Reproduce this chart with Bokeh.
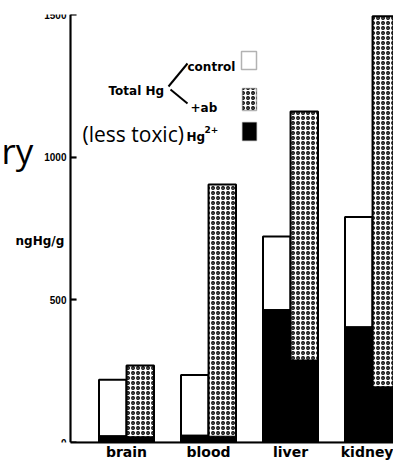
from bokeh.plotting import figure
from bokeh.models import (Range1d, FixedTicker, ColumnDataSource, Label,
                          BoxAnnotation, Arrow)
from bokeh.embed import file_html
from bokeh.resources import INLINE

# ---------------- data ----------------
organs = ["brain", "blood", "liver", "kidney"]
total_hg_control = [220, 237, 722, 790]
total_hg_ab = [270, 904, 1160, 1494]
hg2_control = [24, 26, 466, 406]
hg2_ab = [20, 22, 289, 195]
y_ticks = [0, 500, 1000, 1500]
y_tick_labels = ["0", "500", "1000", "1500"]

# ---------------- layout ----------------
W, H = 393, 462
AXIS_PX = 70          # y axis position (px)
CAT0_PX = 126         # centre of first category pair (px)
CAT_STEP = 82         # px between categories
FRAME_BOTTOM = 442    # baseline (px from top)
TICK_LEN = 6          # inward tick length (px)

def px_to_x(px):
    return (px - CAT0_PX) / CAT_STEP

def sx(x):
    return x

def sy(y):
    return FRAME_BOTTOM - y

idx = list(range(len(organs)))
OFF = 0.168
BW = 0.335
src = ColumnDataSource(dict(
    xc=[i - OFF for i in idx],
    xa=[i + OFF for i in idx],
    tc=total_hg_control,
    ta=total_hg_ab,
    hc=hg2_control,
    ha=hg2_ab,
))

p = figure(width=W, height=H, output_backend="svg", toolbar_location=None,
           x_range=Range1d(px_to_x(0), px_to_x(W)), y_range=Range1d(0, 1500),
           min_border_left=0, min_border_right=0, min_border_top=14,
           min_border_bottom=0)
p.outline_line_color = None
p.xgrid.grid_line_color = None
p.ygrid.grid_line_color = None

HATCH = dict(hatch_pattern="ring", hatch_color="black", hatch_scale=5, hatch_weight=1.3)

# total Hg bars
p.vbar(x="xc", top="tc", bottom=0, width=BW, source=src,
       fill_color="white", line_color="black", line_width=2)
p.vbar(x="xa", top="ta", bottom=0, width=BW, source=src,
       fill_color="white", line_color="black", line_width=2, **HATCH)
# Hg2+ portions
p.vbar(x="xc", top="hc", bottom=0, width=BW, source=src,
       fill_color="black", line_color="black", line_width=1)
p.vbar(x="xa", top="ha", bottom=0, width=BW, source=src,
       fill_color="black", line_color="black", line_width=1)

# y axis, drawn at the position of the original axis
yax = p.yaxis[0]
yax.fixed_location = px_to_x(AXIS_PX)
yax.ticker = FixedTicker(ticks=y_ticks)
yax.major_label_overrides = {t: l for t, l in zip(y_ticks, y_tick_labels)}
yax.axis_line_color = "black"
yax.axis_line_width = 2
yax.major_tick_line_color = "black"
yax.major_tick_line_width = 2
yax.major_tick_in = TICK_LEN
yax.major_tick_out = 0
yax.minor_tick_line_color = None
yax.major_label_standoff = 4
yax.major_label_text_font = "Liberation Sans"
yax.major_label_text_font_style = "bold"
yax.major_label_text_font_size = "10px"
yax.major_label_text_color = "black"

xax = p.xaxis[0]
xax.bounds = (px_to_x(AXIS_PX), px_to_x(W))
xax.ticker = FixedTicker(ticks=idx)
xax.major_label_overrides = {i: o for i, o in zip(idx, organs)}
xax.axis_line_width = 2
xax.axis_line_color = "black"
xax.major_tick_line_color = None
xax.major_tick_in = 0
xax.major_tick_out = 0
xax.minor_tick_line_color = None
xax.major_label_standoff = 1
xax.major_label_text_font = "DejaVu Sans"
xax.major_label_text_font_style = "bold"
xax.major_label_text_font_size = "14px"
xax.major_label_text_color = "black"

# ---------------- annotations ----------------
def lab(text, x, y, size, font="DejaVu Sans", style="bold"):
    p.add_layout(Label(x=sx(x), y=sy(y), x_units="screen", y_units="screen",
                       text=text, text_font=font, text_font_style=style,
                       text_font_size=size, text_color="black",
                       text_baseline="alphabetic", text_align="left"))

lab("ry", 1, 150, "35px", font="Open Sans", style="normal")
lab("(less toxic)", 82, 133, "21px", font="Open Sans", style="normal")
lab("Total Hg", 108, 90, "12px")
lab("control", 187, 66, "12px")
lab("+ab", 190, 107, "12px")
lab("Hg", 186, 136, "12px")
lab("2+", 204, 129, "9px")
lab("ngHg/g", 15, 240, "12px")

for (x0, y0, x1, y1) in [(168, 86, 187, 63), (170, 89, 187, 103)]:
    p.add_layout(Arrow(x_start=sx(x0), y_start=sy(y0), x_end=sx(x1), y_end=sy(y1),
                       start_units="screen", end_units="screen", end=None,
                       line_width=2, line_color="black"))

box_kw = dict(left_units="screen", right_units="screen",
              top_units="screen", bottom_units="screen", line_color="black",
              line_width=1.5, fill_alpha=1)
p.add_layout(BoxAnnotation(left=sx(241), right=sx(256), top=sy(51), bottom=sy(69),
                           fill_color="white", **box_kw))
p.add_layout(BoxAnnotation(left=sx(242), right=sx(256), top=sy(88), bottom=sy(110),
                           fill_color="white", **HATCH, **box_kw))
p.add_layout(BoxAnnotation(left=sx(242), right=sx(256), top=sy(122), bottom=sy(140),
                           fill_color="black", **box_kw))

# axis rule, inward ticks and baseline re-stroked on top (positioned by the y scale)
rule_kw = dict(left_units="screen", right_units="screen", top_units="data",
               bottom_units="data", fill_alpha=0, line_color="black", line_width=2)
p.add_layout(BoxAnnotation(left=sx(AXIS_PX), right=sx(AXIS_PX),
                           top=y_ticks[-1], bottom=y_ticks[0], **rule_kw))
for t in y_ticks[1:]:
    p.add_layout(BoxAnnotation(left=sx(AXIS_PX), right=sx(AXIS_PX + TICK_LEN),
                               top=t, bottom=t, **rule_kw))
p.add_layout(BoxAnnotation(left=sx(AXIS_PX), right=sx(W),
                           top=y_ticks[0], bottom=y_ticks[0], **rule_kw))

open("out.html", "w").write(file_html(p, INLINE))
